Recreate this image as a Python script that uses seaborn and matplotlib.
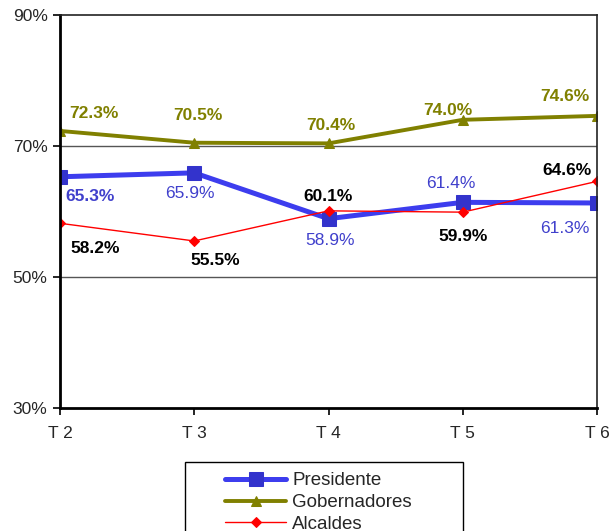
import matplotlib
matplotlib.use("Agg")
import matplotlib.pyplot as plt
import seaborn as sns
import pandas as pd
from matplotlib.patches import Rectangle

categories = ["T 2", "T 3", "T 4", "T 5", "T 6"]
presidente = [65.3, 65.9, 58.9, 61.4, 61.3]
gobernadores = [72.3, 70.5, 70.4, 74.0, 74.6]
alcaldes = [58.2, 55.5, 60.1, 59.9, 64.6]
y_ticks = [30, 50, 70, 90]

sns.set_theme(style="white")
plt.rcParams["font.family"] = ["Liberation Sans", "DejaVu Sans"]

fig = plt.figure(figsize=(6.13, 5.31), dpi=100)
ax = fig.add_axes([60 / 613, 123 / 531, 537 / 613, 393 / 531])

series = [
    ("Presidente", presidente, dict(color="#3D3DEE", lw=3.6, marker="s", ms=10,
                                    mfc="#3333CC", mec="#3333CC"),
     dict(color="#4040CC", weights=["bold", "normal", "normal", "normal", "normal"],
          offs=[(30, -20), (-4, -21), (2, -22), (-12, 19), (-32, -26)])),
    ("Gobernadores", gobernadores, dict(color="#808000", lw=2.8, marker="^", ms=7,
                                        mfc="#808000", mec="#808000"),
     dict(color="#808000", weights=["bold"] * 5,
          offs=[(34, 17), (4, 27), (2, 18), (-15, 9), (-32, 19)])),
    ("Alcaldes", alcaldes, dict(color="#FF0000", lw=1.0, marker="D", ms=5,
                                mfc="#FF0000", mec="#FF0000"),
     dict(color="black", weights=["bold"] * 5,
          offs=[(35, -25), (21, -20), (0, 14), (0, -24), (-30, 11)])),
]

for name, vals, st, lab in series:
    df = pd.DataFrame({"cat": categories, "val": vals})
    sns.lineplot(data=df, x="cat", y="val", ax=ax, color=st["color"], linewidth=st["lw"],
                 marker=st["marker"], markersize=st["ms"], markerfacecolor=st["mfc"],
                 markeredgecolor=st["mec"], label=name, sort=False)
    for i, v in enumerate(vals):
        ax.annotate(f"{v:.1f}%", (i, v), xytext=lab["offs"][i], textcoords="offset pixels",
                    ha="center", va="center", fontsize=12.5, color=lab["color"],
                    fontweight=lab["weights"][i])

ax.set_xlim(0, 4)
ax.set_ylim(30, 90)
ax.set_xticks(range(len(categories)))
ax.set_xticklabels(categories, fontsize=12.5)
ax.set_yticks(y_ticks)
ax.set_yticklabels([f"{t}%" for t in y_ticks], fontsize=12.5)
ax.set_xlabel("")
ax.set_ylabel("")
for t in [50, 70]:
    ax.axhline(t, color="#555555", lw=1.0, zorder=0)
for s in ["left", "bottom"]:
    ax.spines[s].set_color("black")
    ax.spines[s].set_linewidth(2)
for s in ["top", "right"]:
    ax.spines[s].set_color("#222222")
    ax.spines[s].set_linewidth(1.2)
ax.tick_params(axis="both", direction="out", length=5, width=1.2, color="black",
               bottom=True, left=True, pad=4)
ax.tick_params(axis="x", pad=8)

handles, labels = ax.get_legend_handles_labels()
ax.legend_.remove()
leg = fig.legend(handles, labels, loc="upper left", bbox_to_anchor=(212 / 613, 1 - 459 / 531),
                 frameon=False, fontsize=13.5, handlelength=3.25, handletextpad=0.32,
                 labelspacing=0.25, borderpad=0.2)
fig.add_artist(Rectangle((185 / 613, (531 - 545) / 531), 278 / 613, 83 / 531,
                         transform=fig.transFigure, fill=False, edgecolor="black", lw=1))

fig.savefig("out.png", dpi=100)
